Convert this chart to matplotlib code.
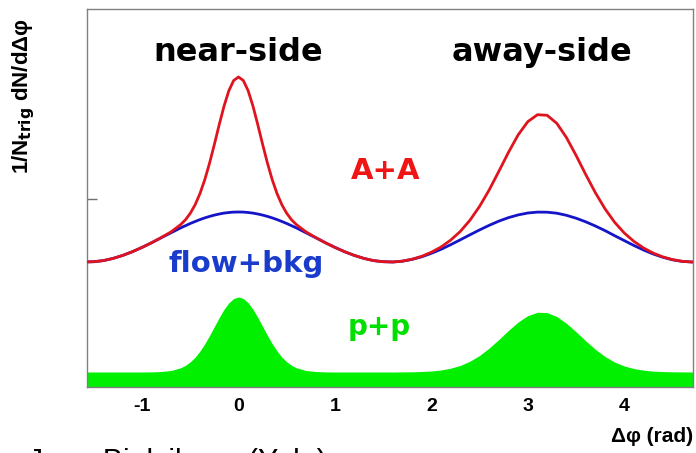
import matplotlib
matplotlib.use("Agg")
import matplotlib.pyplot as plt
import numpy as np

# Delta-phi sample positions (rad)
dphi = [-1.6, -1.5, -1.4, -1.3, -1.2, -1.1, -1.0, -0.9, -0.8, -0.7, -0.6,
        -0.55, -0.5, -0.45, -0.4, -0.35, -0.3, -0.25, -0.2, -0.15, -0.1, -0.05,
        0.0, 0.05, 0.1, 0.15, 0.2, 0.25, 0.3, 0.35, 0.4, 0.45, 0.5, 0.55,
        0.6, 0.7, 0.8, 0.9, 1.0, 1.1, 1.2, 1.3, 1.4, 1.5, 1.6, 1.7, 1.8, 1.9,
        2.0, 2.1, 2.2, 2.3, 2.4, 2.5, 2.6, 2.7, 2.8, 2.9, 3.0, 3.1, 3.2, 3.3,
        3.4, 3.5, 3.6, 3.7, 3.8, 3.9, 4.0, 4.1, 4.2, 4.3, 4.4, 4.5, 4.6, 4.7, 4.8]

# A+A (red)
aa = [1.250, 1.253, 1.264, 1.286, 1.316, 1.353, 1.396, 1.443, 1.495, 1.551, 1.624,
      1.672, 1.737, 1.822, 1.933, 2.072, 2.239, 2.427, 2.623, 2.809, 2.963, 3.065,
      3.100, 3.065, 2.963, 2.809, 2.623, 2.427, 2.239, 2.072, 1.933, 1.822, 1.737, 1.672,
      1.624, 1.551, 1.495, 1.443, 1.396, 1.353, 1.316, 1.286, 1.264, 1.253, 1.250, 1.259,
      1.278, 1.307, 1.348, 1.400, 1.469, 1.556, 1.668, 1.807, 1.972, 2.158, 2.348, 2.522,
      2.654, 2.723, 2.717, 2.637, 2.495, 2.316, 2.125, 1.943, 1.782, 1.647, 1.540, 1.456,
      1.390, 1.339, 1.301, 1.274, 1.257, 1.250, 1.254]

# flow + background (blue)
flow = [1.250, 1.253, 1.264, 1.286, 1.316, 1.353, 1.396, 1.443, 1.493, 1.542, 1.591,
        1.613, 1.635, 1.655, 1.674, 1.691, 1.706, 1.719, 1.730, 1.739, 1.745, 1.749,
        1.750, 1.749, 1.745, 1.739, 1.730, 1.719, 1.706, 1.691, 1.674, 1.655, 1.635, 1.613,
        1.591, 1.542, 1.493, 1.443, 1.396, 1.353, 1.316, 1.286, 1.264, 1.253, 1.250, 1.258,
        1.276, 1.302, 1.337, 1.377, 1.423, 1.472, 1.522, 1.571, 1.617, 1.659, 1.694, 1.721,
        1.740, 1.749, 1.748, 1.738, 1.717, 1.688, 1.652, 1.610, 1.564, 1.513, 1.464, 1.415,
        1.370, 1.330, 1.297, 1.272, 1.256, 1.250, 1.254]

# p+p (green, filled)
pp = [0.150, 0.150, 0.150, 0.150, 0.150, 0.150, 0.150, 0.151, 0.155, 0.165, 0.192,
      0.217, 0.252, 0.298, 0.359, 0.432, 0.515, 0.605, 0.695, 0.777, 0.842, 0.885,
      0.900, 0.885, 0.842, 0.777, 0.695, 0.605, 0.515, 0.432, 0.359, 0.298, 0.252, 0.217,
      0.192, 0.165, 0.155, 0.151, 0.150, 0.150, 0.150, 0.150, 0.150, 0.150, 0.150, 0.151,
      0.152, 0.155, 0.160, 0.170, 0.188, 0.216, 0.258, 0.316, 0.390, 0.476, 0.567, 0.650,
      0.714, 0.747, 0.744, 0.705, 0.637, 0.552, 0.461, 0.377, 0.305, 0.249, 0.210, 0.184,
      0.168, 0.159, 0.154, 0.152, 0.151, 0.150, 0.150]

x_ticks = [-1, 0, 1, 2, 3, 4]
x_tick_labels = ["-1", "0", "1", "2", "3", "4"]
y_ticks = [1.88]

W, H = 696, 453
fig = plt.figure(figsize=(W / 100, H / 100), dpi=100)
ax = fig.add_axes([87 / W, (H - 387) / H, (693 - 87) / W, (387 - 9) / H])

ax.fill_between(dphi, 0, pp, color="#00f000", linewidth=0, zorder=1)
ax.plot(dphi, flow, color="#1414c8", lw=2.0, zorder=2)
ax.plot(dphi, aa, color="#e0141e", lw=2.0, zorder=3)

ax.set_xlim(-np.pi / 2, 3 * np.pi / 2)
ax.set_ylim(0, 3.78)
ax.set_xticks(x_ticks)
ax.set_xticklabels(x_tick_labels, fontfamily="Liberation Sans", fontweight="bold", fontsize=14)
ax.tick_params(axis="x", length=0, pad=8)
ax.set_yticks(y_ticks)
ax.set_yticklabels([])
ax.tick_params(axis="y", direction="in", length=7, color="#707070", width=1)
for s in ax.spines.values():
    s.set_color("#808080")
    s.set_linewidth(1.0)

tfont = dict(family="DejaVu Sans", fontweight="bold")
ax.text(0.0, 3.34, "near-side", ha="center", va="center", fontsize=23, color="black", **tfont)
ax.text(np.pi, 3.34, "away-side", ha="center", va="center", fontsize=23, color="black", **tfont)
ax.text(1.53, 2.16, "A+A", ha="center", va="center", fontsize=21, color="#f01414", **tfont)
ax.text(0.08, 1.23, "flow+bkg", ha="center", va="center", fontsize=21, color="#1a3ccc", **tfont)
ax.text(1.46, 0.60, "p+p", ha="center", va="center", fontsize=20, color="#00e000", **tfont)

fig.text(24 / W, 1 - 96 / H, r"1/N$_{\mathbf{trig}}$ dN/dΔφ", rotation=90, ha="center", va="center",
         fontsize=16, fontweight="bold", family="Liberation Sans")
fig.text(693 / W, 1 - 437 / H, "Δφ (rad)", ha="right", va="center", fontsize=15,
         fontweight="bold", family="Liberation Sans")
fig.text(28 / W, 1 - 448 / H, "Jana Bielcikova (Yale)", ha="left", va="top", fontsize=22,
         family="Liberation Sans")

fig.savefig("out.png", dpi=100)
